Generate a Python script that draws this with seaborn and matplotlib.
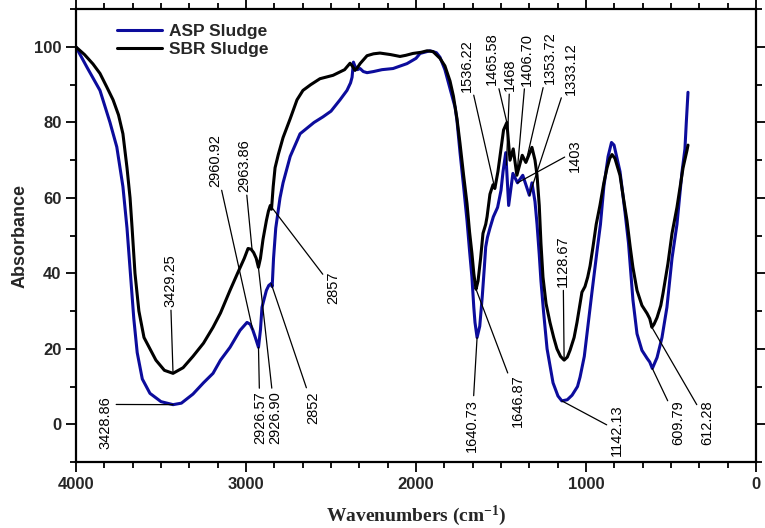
import numpy as np
import pandas as pd
import matplotlib
matplotlib.use('Agg')
import matplotlib.pyplot as plt
import seaborn as sns
from matplotlib.ticker import MultipleLocator, AutoMinorLocator

# FTIR spectra (wavenumber, absorbance)
asp_wave = [4000, 3935, 3859, 3800, 3760, 3724, 3700, 3680, 3660, 3640, 3610, 3565, 3500,
            3428.86, 3380, 3312, 3250, 3194, 3150, 3094, 3035, 2994, 2975, 2960, 2945,
            2926.57, 2915, 2906, 2880, 2866, 2852, 2846, 2838, 2825, 2800, 2782, 2740,
            2682, 2641, 2600, 2547, 2500, 2447, 2406, 2385, 2376, 2368, 2360, 2345, 2329,
            2310, 2288, 2250, 2200, 2135, 2053, 2000, 1976, 1918, 1880, 1859, 1830, 1800,
            1770, 1759, 1741, 1720, 1700, 1685, 1671, 1660, 1653, 1640.73, 1625, 1610,
            1598, 1590, 1580, 1565, 1545, 1520, 1500, 1488, 1472, 1455, 1430, 1403, 1372,
            1333.12, 1318, 1300, 1288, 1275, 1265, 1250, 1229, 1194, 1165, 1142.13, 1110,
            1082, 1050, 1035, 1010, 994, 965, 935, 915, 895, 870, 850, 835, 800, 770, 750,
            724, 700, 671, 641, 625, 609.79, 582, 553, 524, 494, 465, 435, 418, 410, 400]
asp_abs = [100, 94.6, 88.5, 80, 73.5, 63, 52, 40, 28, 19, 12, 8.2, 6,
           5.2, 5.6, 8, 11, 13.5, 17, 20.4, 24.9, 27, 26.5, 25, 23,
           20.4, 25, 31, 35.5, 36.8, 37.3, 36.5, 44, 52, 60, 64, 71,
           77, 78.5, 80, 81.5, 83, 86, 88.5, 90.5, 92, 96, 95, 94, 94.3,
           93.5, 93.2, 93.5, 94, 94.3, 95.6, 97, 98.3, 99, 98.5, 97.3, 94, 89,
           84, 80.5, 72, 63, 54, 46, 39, 31, 27, 23, 26, 34,
           41.6, 47, 49.5, 52, 55, 57.5, 62, 67, 72, 58, 66.5, 64, 66,
           60.7, 64, 59, 53, 45, 38, 30, 20, 11, 7.5, 6.2, 6.5,
           7.7, 10, 12.5, 18, 24, 35, 46, 53, 63, 71, 74.7, 74, 67, 56, 48,
           33, 24, 19.6, 17.5, 16.5, 14.8, 17.7, 23, 31, 44, 53, 67, 73, 80, 88]

sbr_wave = [4000, 3950, 3900, 3859, 3820, 3782, 3750, 3724, 3700, 3682, 3670, 3653, 3630,
            3600, 3565, 3530, 3480, 3429.25, 3370, 3312, 3250, 3194, 3150, 3094, 3050,
            3010, 2988, 2970, 2955, 2940, 2926.90, 2915, 2900, 2880, 2868, 2857, 2850,
            2840, 2829, 2810, 2782, 2740, 2700, 2665, 2620, 2565, 2488, 2420, 2388, 2375,
            2359, 2345, 2329, 2288, 2250, 2212, 2150, 2094, 2060, 2018, 1970, 1935, 1900,
            1859, 1830, 1800, 1780, 1759, 1741, 1720, 1700, 1685, 1671, 1660, 1653,
            1646.87, 1635, 1620, 1606, 1590, 1582, 1565, 1547, 1536.22, 1518, 1500, 1485,
            1465.58, 1447, 1428, 1406.70, 1375, 1353.72, 1318, 1300, 1288, 1275, 1265,
            1253, 1235, 1212, 1190, 1171, 1150, 1128.67, 1110, 1094, 1070, 1053, 1035,
            1024, 1006, 990, 976, 959, 940, 918, 895, 876, 860, 847, 830, 800, 780, 759,
            740, 724, 700, 671, 641, 625, 612.28, 600, 582, 560, 547, 518, 494, 465, 429,
            406, 400]
sbr_abs = [100, 98, 95.5, 93, 89.5, 86, 82, 77, 68, 60, 52, 40, 30,
           23, 20, 17, 14.3, 13.5, 15, 18, 21.5, 25.7, 29.5, 35.5, 40,
           44, 46.6, 46.4, 45.5, 44, 41.6, 44, 49, 54, 56.5, 58, 57,
           63, 68, 71.5, 76, 81, 86, 88.5, 90, 91.6, 92.5, 94, 95.7, 95,
           93.8, 94.5, 95.6, 97.7, 98.2, 98.4, 98, 97.5, 97.8, 98.3, 98.6, 99, 98.8,
           97, 95, 91, 87, 81, 74.4, 66, 58.5, 51, 45.3, 40, 37.6,
           35.8, 38, 44, 50.6, 53, 55, 61, 63.5, 62.5, 67, 73, 78,
           80, 70, 73, 66, 71.3, 69.4, 73.4, 70, 66, 58, 48,
           39, 32, 27, 23, 20, 18, 17, 17.8, 19.6, 23, 27, 32,
           35, 36.5, 39, 42, 47, 53, 58, 64, 68, 70.5, 71.5, 70.5, 66, 60, 54,
           47, 41.6, 35.5, 31.5, 29.4, 28, 25.7, 26.5, 28.3, 31.5, 34.7, 42.6, 50.6, 57.5, 68,
           72.6, 74]

series_names = ['ASP Sludge', 'SBR Sludge']
series_colors = {'ASP Sludge': '#0c0c9c', 'SBR Sludge': 'black'}

# peak labels and the curve they belong to
peak_labels = ['3428.86', '3429.25', '2960.92', '2963.86', '2926.57', '2926.90', '2852', '2857',
               '1640.73', '1646.87', '1536.22', '1465.58', '1468', '1406.70', '1353.72',
               '1333.12', '1403', '1128.67', '1142.13', '609.79', '612.28']
peak_series = ['ASP Sludge', 'SBR Sludge', 'ASP Sludge', 'SBR Sludge', 'ASP Sludge', 'SBR Sludge',
               'ASP Sludge', 'SBR Sludge', 'ASP Sludge', 'SBR Sludge', 'SBR Sludge', 'SBR Sludge',
               'ASP Sludge', 'SBR Sludge', 'SBR Sludge', 'ASP Sludge', 'ASP Sludge', 'SBR Sludge',
               'ASP Sludge', 'ASP Sludge', 'SBR Sludge']
# where each label text sits (layout only)
label_pos = [(3824, 0.5), (3447, 38.1), (3182, 69.9), (3012, 68.6), (2918, 1.7), (2829, 1.7),
             (2606, 4.5), (2488, 36.2), (1671, -0.3), (1400, 6.4), (1700, 95.1), (1553, 96.8),
             (1447, 92.7), (1347, 96.8), (1212, 97.1), (1088, 94.4), (1065, 71.3), (1135, 43.2),
             (818, -1.6), (459, 0.5), (288, 0.5)]
# leader start on the text box, only where it is not the default
leader_relpos = {'3428.86': (1.0, 0.84), '1403': (0.0, 0.5)}

xtick_vals = [4000, 3000, 2000, 1000, 0]
ytick_vals = [0, 20, 40, 60, 80, 100]

sns.set_style('ticks')
plt.rcParams['font.family'] = ['Liberation Sans', 'DejaVu Sans']
plt.rcParams['mathtext.fontset'] = 'custom'
plt.rcParams['mathtext.rm'] = 'Liberation Serif:bold'
plt.rcParams['mathtext.default'] = 'rm'

df = pd.concat([
    pd.DataFrame({'Wavenumber': asp_wave, 'Absorbance': asp_abs, 'Sample': 'ASP Sludge'}),
    pd.DataFrame({'Wavenumber': sbr_wave, 'Absorbance': sbr_abs, 'Sample': 'SBR Sludge'}),
])

fig = plt.figure(figsize=(7.65, 5.28), dpi=100)
ax = fig.add_axes([76 / 765, 1 - 462 / 528, 680 / 765, (462 - 9.3) / 528])

sns.lineplot(data=df, x='Wavenumber', y='Absorbance', hue='Sample', hue_order=series_names,
             palette=series_colors, estimator=None, sort=True, lw=2.2, ax=ax)
for line in ax.get_lines():
    line.set_solid_joinstyle('round')

# peak annotations with leader lines
curves = {'ASP Sludge': (asp_wave, asp_abs), 'SBR Sludge': (sbr_wave, sbr_abs)}
for lbl, ser, (tx, ty) in zip(peak_labels, peak_series, label_pos):
    w = float(lbl)
    xs, ys = curves[ser]
    yv = np.interp(w, xs[::-1], ys[::-1])
    props = dict(arrowstyle='-', color='black', lw=0.9, shrinkA=0, shrinkB=0)
    if lbl in leader_relpos:
        props['relpos'] = leader_relpos[lbl]
    ax.annotate(lbl, xy=(w, yv), xytext=(tx, ty), rotation=90, ha='center', va='center',
                fontsize=10.5, color='black', arrowprops=props)

ax.set_xlim(4000, 0)
ax.set_ylim(-10, 110)
ax.set_xticks(xtick_vals)
ax.set_xticklabels([str(v) for v in xtick_vals], fontweight='bold', fontsize=12)
ax.set_yticks(ytick_vals)
ax.set_yticklabels([str(v) for v in ytick_vals], fontweight='bold', fontsize=12)
ax.xaxis.set_minor_locator(AutoMinorLocator(6))
ax.yaxis.set_minor_locator(MultipleLocator(10))
ax.tick_params(which='both', direction='out', top=True, right=True, width=1.3, color='black')
ax.tick_params(which='major', length=7)
ax.tick_params(which='minor', length=4)
for s in ax.spines.values():
    s.set_linewidth(1.6)
    s.set_color('black')

ax.set_ylabel('Absorbance', fontsize=13, fontweight='bold', labelpad=4)
ax.set_xlabel('Wavenumbers (cm$^{-1}$)', fontsize=14, fontweight='bold',
              fontfamily='Liberation Serif', labelpad=9)

handles, labels = ax.get_legend_handles_labels()
ax.legend(handles, labels, loc='upper left', bbox_to_anchor=(0.045, 0.99), frameon=False,
          prop={'weight': 'bold', 'size': 12.5}, handlelength=2.6, labelspacing=0.15,
          borderaxespad=0.2, handletextpad=0.4)

fig.savefig('out.png', dpi=100)
